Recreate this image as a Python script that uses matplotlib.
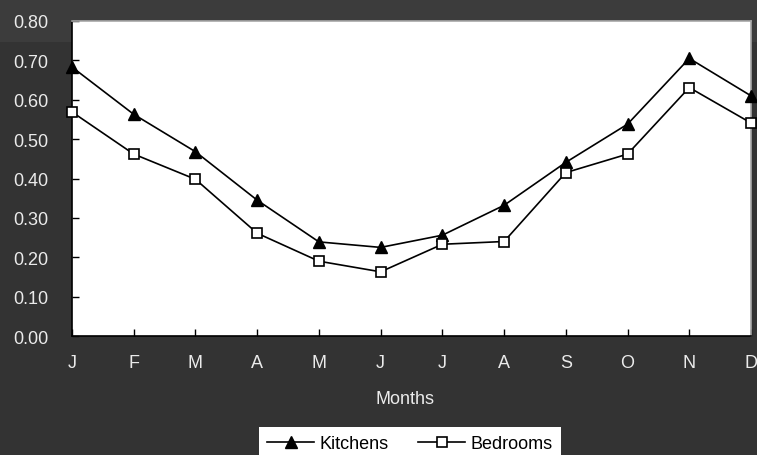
import matplotlib
matplotlib.use("Agg")
import matplotlib.pyplot as plt
from matplotlib.patches import Rectangle

plt.rcParams['font.family'] = ['Liberation Sans', 'DejaVu Sans']

months = ['J', 'F', 'M', 'A', 'M', 'J', 'J', 'A', 'S', 'O', 'N', 'D']
kitchens = [0.683, 0.563, 0.468, 0.345, 0.239, 0.225, 0.256, 0.332, 0.441, 0.538, 0.705, 0.610]
bedrooms = [0.569, 0.462, 0.398, 0.261, 0.190, 0.163, 0.233, 0.240, 0.415, 0.462, 0.631, 0.541]
yticks = [0.0, 0.1, 0.2, 0.3, 0.4, 0.5, 0.6, 0.7, 0.8]

W, H = 757, 456
bg = '#333333'
txt = '#ebebeb'

fig = plt.figure(figsize=(W / 100, H / 100), dpi=100, facecolor=bg)
# lighter band across the top, behind everything
band = Rectangle((0, 1 - 43 / H), 1, 43 / H, transform=fig.transFigure,
                 facecolor='#3c3c3c', edgecolor='none', zorder=-10)
fig.patches.append(band)

ax = fig.add_axes([72 / W, 1 - 337 / H, (751 - 72) / W, (337 - 22) / H])
ax.set_zorder(2)
ax.set_facecolor('white')

x = list(range(len(months)))
ax.plot(x, kitchens, color='black', lw=1.2, marker='^', ms=8.5,
        mfc='black', mec='black', label='Kitchens', clip_on=False, zorder=3)
ax.plot(x, bedrooms, color='black', lw=1.2, marker='s', ms=7.5,
        mfc='white', mec='black', mew=1.2, label='Bedrooms', clip_on=False, zorder=3)

ax.set_xlim(0, 11)
ax.set_ylim(0, 0.8)
ax.set_yticks(yticks)
ax.set_yticklabels(['%.2f' % v for v in yticks])
ax.set_xticks(x)
ax.set_xticklabels(months)

ax.tick_params(axis='y', direction='in', length=5, width=1, pad=17,
               colors='black', labelcolor=txt, labelsize=13)
ax.tick_params(axis='x', direction='in', length=5, width=1, pad=13,
               colors='black', labelcolor=txt, labelsize=13)

ax.spines['left'].set_color('black')
ax.spines['bottom'].set_color('black')
ax.spines['top'].set_color('#a8a8a8')
ax.spines['right'].set_color('#a8a8a8')
for s in ax.spines.values():
    s.set_linewidth(1.2)

ax.set_xlabel('Months', color=txt, fontsize=13)
ax.xaxis.set_label_coords((405 - 72) / (751 - 72), -(400 - 337) / (337 - 22))
ax.xaxis.label.set_va('center')

leg = fig.legend(loc='upper center', bbox_to_anchor=(410 / W, 1 - 428 / H), ncol=2,
                 fontsize=13, frameon=True, fancybox=False, facecolor='white',
                 edgecolor='white', framealpha=1, handlelength=2.6,
                 handletextpad=0.28, columnspacing=1.65, borderpad=0.45,
                 borderaxespad=0)
leg.get_frame().set_linewidth(0)

fig.savefig('out.png', dpi=100, facecolor=bg)
